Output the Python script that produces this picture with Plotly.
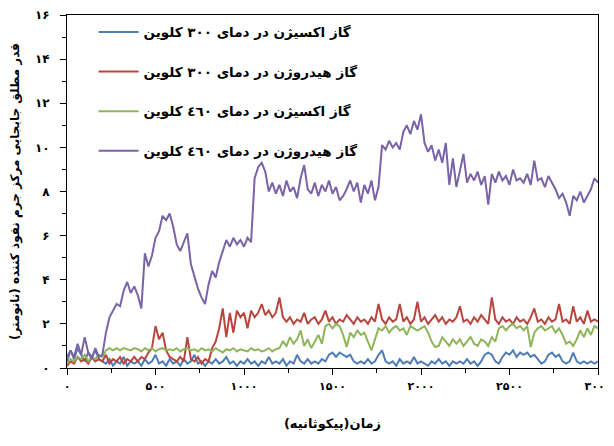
import plotly.graph_objects as go

# time axis (picoseconds), one sample every 20 ps
time_ps = list(range(0, 3001, 20))

# Oxygen gas, 300 K (blue)
oxygen_300 = [
    0.5, 0.8, 0.4, 0.9, 0.6, 0.3, 0.7, 0.5, 0.8, 0.4,
    0.3, 0.2, 0.4, 0.1, 0.3, 0.2, 0.5, 0.1, 0.3, 0.2,
    0.3, 0.1, 0.4, 0.2, 0.3, 0.6, 0.2, 0.3, 0.1, 0.4,
    0.2, 0.3, 0.1, 0.4, 0.2, 0.3, 0.6, 0.2, 0.3, 0.1,
    0.3, 0.2, 0.4, 0.2, 0.3, 0.5, 0.2, 0.3, 0.1, 0.3,
    0.2, 0.4, 0.2, 0.3, 0.1, 0.3, 0.2, 0.5, 0.2, 0.3,
    0.2, 0.4, 0.1, 0.3, 0.2, 0.6, 0.3, 0.2, 0.4, 0.2,
    0.3, 0.2, 0.4, 0.3, 0.6, 0.7, 0.5, 0.7, 0.6, 0.5,
    0.6, 0.3, 0.2, 0.3, 0.2, 0.4, 0.2, 0.3, 0.6, 0.8,
    0.3, 0.2, 0.3, 0.1, 0.4, 0.2, 0.3, 0.2, 0.5, 0.2,
    0.3, 0.2, 0.1, 0.3, 0.2, 0.4, 0.2, 0.3, 0.1, 0.3,
    0.2, 0.3, 0.2, 0.4, 0.2, 0.3, 0.1, 0.3, 0.6, 0.7,
    0.6, 0.3, 0.2, 0.5, 0.7, 0.6, 0.8, 0.5, 0.7, 0.6,
    0.7, 0.5, 0.6, 0.4, 0.2, 0.3, 0.6, 0.7, 0.5, 0.6,
    0.3, 0.2, 0.3, 0.7, 0.3, 0.2, 0.3, 0.2, 0.3, 0.2,
    0.3,
]

# Hydrogen gas, 300 K (red)
hydrogen_300 = [
    0.1, 0.3, 0.2, 0.5, 0.3, 0.4, 0.2, 0.5, 0.3, 0.4,
    0.3, 0.6, 0.2, 0.4, 0.3, 0.5, 0.2, 0.4, 0.3, 0.5,
    0.3, 0.5, 0.4, 0.7, 0.9, 1.9, 1.3, 1.6, 0.8, 0.5,
    0.4, 0.3, 0.5, 0.3, 1.4, 0.4, 0.3, 0.5, 0.2, 0.4,
    0.3, 0.9, 1.2, 1.8, 2.7, 1.4, 2.5, 1.6, 2.6, 2.3,
    2.5, 1.8, 2.6, 2.3, 2.5, 2.9, 2.4, 2.6, 2.3, 2.5,
    3.2, 2.3, 2.1, 2.3, 2.0, 2.2, 2.1, 2.5, 2.0, 2.2,
    2.3, 2.0, 2.2, 2.6, 2.1, 2.3, 2.0, 2.2, 2.1, 2.4,
    2.2, 2.0, 2.3, 2.1, 2.2, 2.0, 2.3, 2.1, 2.9, 2.2,
    2.0, 2.3, 2.1, 2.2, 2.9, 2.1, 2.3, 2.0, 2.2, 3.0,
    2.1, 2.3, 2.0, 2.2, 2.4, 2.1, 2.3, 2.0, 2.2, 2.1,
    2.3, 2.8, 2.1, 2.2, 2.0, 2.3, 2.1, 2.4, 2.2, 2.0,
    3.2, 2.2, 2.0, 2.3, 2.1, 2.2, 2.0, 2.3, 2.1, 2.2,
    2.0, 2.3, 2.7, 2.1, 2.2, 2.0, 2.3, 2.1, 2.2, 2.9,
    2.1, 2.2, 2.0, 2.8, 2.1, 2.3, 2.0, 2.6, 2.1, 2.2,
    2.1,
]

# Oxygen gas, 460 K (green)
oxygen_460 = [
    0.2, 0.4, 0.3, 0.5, 0.4, 0.6, 0.3, 0.5, 0.4, 0.6,
    0.5, 0.8, 0.9, 0.8, 0.9, 0.8, 0.9, 0.85, 0.8, 0.9,
    0.85, 0.75, 0.9, 0.8, 0.9, 0.75, 0.85, 0.9, 0.8, 0.85,
    0.8, 0.9, 0.75, 0.85, 0.9, 0.8, 0.85, 0.75, 0.9, 0.8,
    0.85, 0.75, 0.9, 0.8, 0.7, 0.85, 0.8, 0.9, 0.75, 0.85,
    0.8, 0.75, 0.9, 0.8, 0.85, 0.75, 0.8, 0.9, 0.75, 0.85,
    0.9, 1.2, 1.0, 1.4, 1.1, 1.3, 1.7, 1.0, 1.3, 0.9,
    1.2, 1.5, 1.1, 1.9, 2.0, 1.8, 2.0, 1.9, 1.5, 0.95,
    1.6, 1.4, 1.7, 1.5, 1.6, 1.2, 0.8, 1.3, 1.8, 1.7,
    1.9, 1.6, 1.8, 1.9, 1.7, 1.8, 1.5, 1.9, 1.8, 1.7,
    1.8, 1.9, 1.6, 1.2, 0.95, 1.0, 1.4, 1.2, 1.0, 1.3,
    1.1, 1.3, 1.0, 1.2, 1.4, 1.1, 1.0, 1.3, 1.2, 1.0,
    1.4, 1.2, 1.8, 1.9, 1.7, 1.9, 2.0, 1.8, 1.9, 1.7,
    1.9, 0.95, 1.6, 1.8, 1.9, 1.7, 1.8, 1.9, 1.6, 1.8,
    1.5, 1.1, 1.2, 1.0, 1.3, 1.7, 1.4, 1.8, 1.5, 1.9,
    1.8,
]

# Hydrogen gas, 460 K (purple)
hydrogen_460 = [
    0.3, 0.8, 0.5, 1.1, 0.6, 1.4, 0.7, 0.4, 0.9, 0.5,
    0.6, 1.6, 2.3, 2.6, 2.9, 2.8, 3.5, 3.9, 3.4, 3.7,
    3.3, 2.7, 5.2, 4.6, 5.1, 5.9, 6.2, 6.9, 6.7, 7.0,
    6.4, 5.6, 5.3, 5.7, 6.1, 4.7, 4.1, 3.6, 3.2, 2.9,
    3.8, 4.4, 4.1, 4.8, 5.3, 5.8, 5.5, 5.9, 5.6, 5.8,
    5.5, 5.9, 5.7, 8.6, 9.1, 9.3, 8.9, 8.0, 8.4, 7.9,
    8.3, 7.8, 8.5, 8.0, 8.2, 7.7, 8.6, 9.2, 8.1, 7.9,
    8.4, 7.8, 8.3, 8.0, 8.5, 7.9, 8.2, 7.6, 7.8, 8.1,
    8.5, 8.0, 8.4, 7.5, 8.3, 7.9, 8.5, 7.6, 8.2, 10.1,
    9.9, 10.3, 10.0, 10.2, 9.9, 10.7, 11.0, 10.6, 11.2, 10.8,
    11.5, 10.2, 9.8, 10.1, 9.4, 9.9, 9.3, 10.2, 8.3, 9.5,
    8.2, 9.0, 9.7, 8.4, 8.8, 8.5, 8.9, 8.3, 8.7, 7.4,
    8.8, 8.4, 8.9, 8.5, 8.7, 8.3, 9.0, 8.5, 8.6, 8.4,
    8.8, 8.3, 9.4, 8.5, 8.6, 8.2, 8.7, 8.4, 8.1, 7.7,
    7.9, 7.5, 6.9, 7.8, 7.6, 8.0, 7.5, 7.8, 8.1, 8.6,
    8.4,
]

series_names = [
    "گاز اکسیژن در دمای ۳۰۰ کلوین",
    "گاز هیدروژن در دمای ۳۰۰ کلوین",
    "گاز اکسیژن در دمای ٤٦٠ کلوین",
    "گاز هیدروژن در دمای ٤٦٠ کلوین",
]
series_values = [oxygen_300, hydrogen_300, oxygen_460, hydrogen_460]
series_colors = ["#4f7db5", "#b8463e", "#8fb45a", "#7a63a6"]

x_tick_vals = [0, 500, 1000, 1500, 2000, 2500, 3000]
x_tick_text = ["۰", "۵۰۰", "۱۰۰۰", "۱۵۰۰", "۲۰۰۰", "۲۵۰۰", "۳۰۰۰"]
y_tick_vals = [0, 2, 4, 6, 8, 10, 12, 14, 16]
y_tick_text = ["۰", "۲", "۴", "۶", "۸", "۱۰", "۱۲", "۱۴", "۱۶"]

x_title = "زمان(پیکوثانیه)"
y_title = "قدر مطلق جابجایی مرکز جرم نفوذ کننده (نانومتر)"

fig = go.Figure()
for i, (name, vals, col) in enumerate(zip(series_names, series_values, series_colors)):
    fig.add_trace(go.Scatter(
        x=time_ps, y=vals, mode="lines", name="<b>" + name + "</b>",
        legendgroup="g%d" % i,
        line=dict(color=col, width=2.0),
    ))

font_family = "DejaVu Sans"
# the page body adds an 8px offset, so the figure is sized to fit the window
fig.update_layout(
    width=606, height=438,
    margin=dict(l=59, r=16, t=7, b=78),
    paper_bgcolor="white", plot_bgcolor="white",
    font=dict(family=font_family, color="black", size=12),
    showlegend=True,
    legend=dict(
        x=0.05, y=0.995, xanchor="left", yanchor="top",
        bgcolor="rgba(255,255,255,0)",
        font=dict(size=13.5, family=font_family, color="black"),
        tracegroupgap=19, itemwidth=40,
    ),
    xaxis=dict(
        range=[0, 3000], tickmode="array", tickvals=x_tick_vals,
        ticktext=["<b>" + t + "</b>" for t in x_tick_text],
        showline=True, linecolor="black", linewidth=1, mirror=True,
        ticks="outside", ticklen=6, tickcolor="black",
        minor=dict(dtick=250, ticks="outside", ticklen=4, tickcolor="black"),
        showgrid=False, zeroline=False, automargin=False,
        ticklabelstandoff=2,
        tickfont=dict(size=11, family=font_family),
        title=dict(text="<b>" + x_title + "</b>", font=dict(size=13, family=font_family), standoff=26),
    ),
    yaxis=dict(
        range=[0, 16], tickmode="array", tickvals=y_tick_vals,
        ticktext=["<b>" + t + "</b>" for t in y_tick_text],
        showline=True, linecolor="black", linewidth=1, mirror=True,
        ticks="outside", ticklen=6, tickcolor="black",
        minor=dict(dtick=1, ticks="outside", ticklen=4, tickcolor="black"),
        showgrid=False, zeroline=False, automargin=False,
        ticklabelstandoff=8,
        tickfont=dict(size=12, family=font_family),
        title=dict(text="<b>" + y_title + "</b>", font=dict(size=12, family=font_family), standoff=12),
    ),
)

fig.write_html("out.html")
